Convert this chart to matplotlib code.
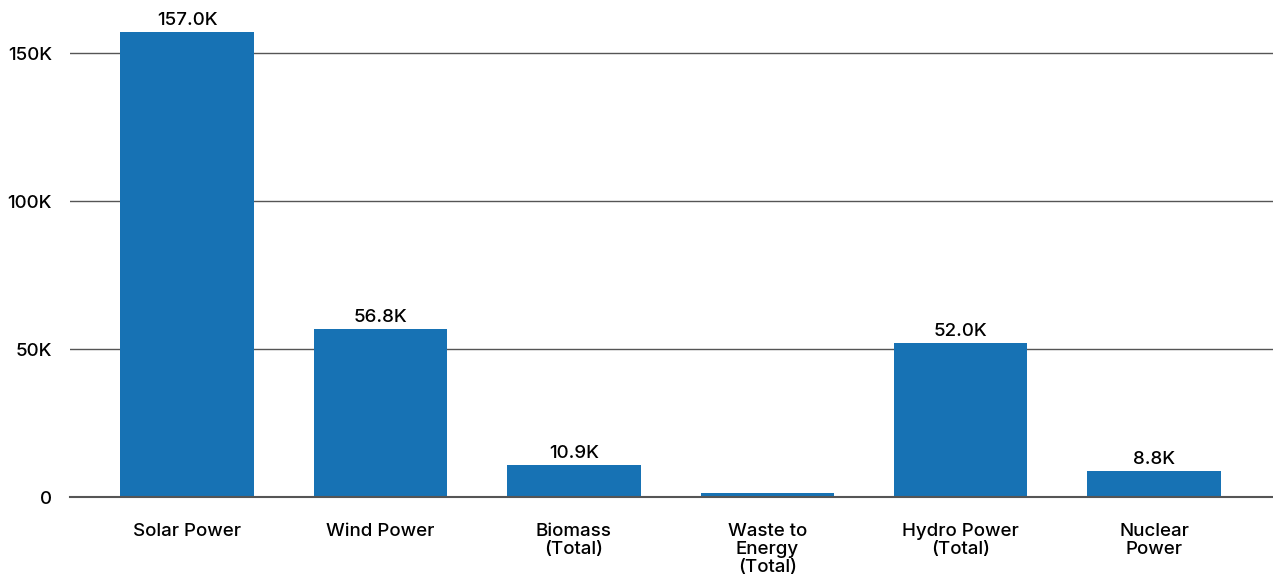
import matplotlib
matplotlib.use("Agg")
import matplotlib.pyplot as plt
from matplotlib.ticker import FuncFormatter

plt.rcParams['font.family'] = ['Inter', 'DejaVu Sans']
plt.rcParams['font.weight'] = 'medium'

categories = ["Solar Power", "Wind Power", "Biomass\n(Total)", "Waste to\nEnergy\n(Total)",
              "Hydro Power\n(Total)", "Nuclear\nPower"]
values = [157.0, 56.8, 10.9, 1.2, 52.0, 8.8]   # thousands
labels = ["157.0K", "56.8K", "10.9K", None, "52.0K", "8.8K"]
yticks = [0, 50, 100, 150]

W, H = 1273, 581
fig = plt.figure(figsize=(W / 100, H / 100), dpi=100)
ax = fig.add_axes([70 / W, (H - 497) / H, (W - 70) / W, (497 - 8) / H])

bar_color = "#1772b4"
text_color = "#000000"
x = list(range(len(categories)))
bars = ax.bar(x, values, width=0.69, color=bar_color, zorder=3)

for b, lab in zip(bars, labels):
    if lab:
        ax.text(b.get_x() + b.get_width() / 2, b.get_height() + 1.0, lab,
                ha="center", va="bottom", fontsize=13.5, color=text_color)

ax.set_xlim(-0.605, 5.615)
ax.set_ylim(0, 489 / 2.96)
ax.set_yticks(yticks)
ax.yaxis.set_major_formatter(FuncFormatter(lambda v, p: "0" if v == 0 else f"{int(v)}K"))
ax.set_xticks(x)
ax.set_xticklabels(categories, fontsize=13.5, linespacing=1.05, color=text_color)
ax.tick_params(axis="y", labelsize=13.5, length=0, pad=13, labelcolor=text_color)
ax.tick_params(axis="x", length=0, pad=19)

ax.grid(axis="y", color="#555555", linewidth=1.0, zorder=0)
ax.axhline(0, color="#555555", linewidth=1.5, zorder=4, clip_on=False)
for s in ax.spines.values():
    s.set_visible(False)

fig.savefig("out.png", dpi=100)
